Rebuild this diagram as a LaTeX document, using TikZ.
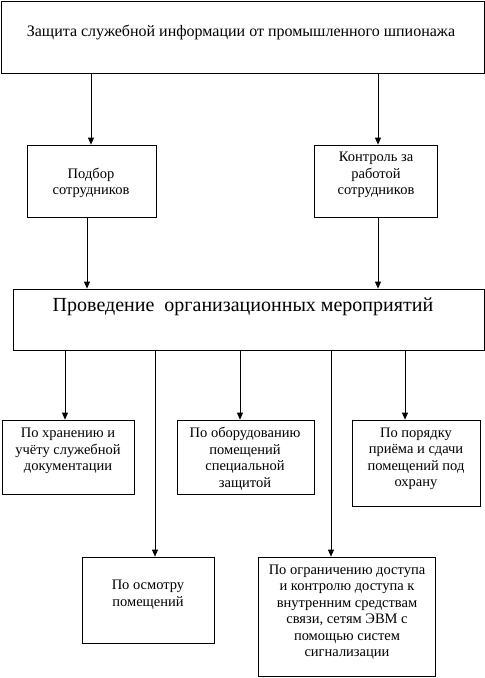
\documentclass[tikz,border=0pt]{standalone}
\usepackage{fontspec}
\setmainfont{Liberation Serif}
\usetikzlibrary{arrows.meta}
\begin{document}
\begin{tikzpicture}[x=1pt,y=-1pt,
  box/.style={draw=black, line width=0.8pt, inner sep=0pt, rectangle},
  txt/.style={inner sep=0pt, align=center, font=\fontsize{14.5}{16.5}\selectfont},
  titletxt/.style={inner sep=0pt, align=center, font=\fontsize{16}{19}\selectfont},
  bigtxt/.style={inner sep=0pt, align=center, font=\fontsize{20}{24}\selectfont},
  arr/.style={draw=black, line width=0.8pt, -{Triangle[length=7pt,width=6pt]}}]
\useasboundingbox (0,0) rectangle (485,678);
% boxes
\node[box, minimum width=483pt, minimum height=72pt] (top) at (242.5,37) {};
\node[box, minimum width=129pt, minimum height=72pt] (podbor) at (91.5,181) {};
\node[box, minimum width=123pt, minimum height=72pt] (kontrol) at (375.5,181) {};
\node[box, minimum width=471pt, minimum height=61pt] (proved) at (248.5,319.5) {};
\node[box, minimum width=132pt, minimum height=74pt] (khran) at (68,457) {};
\node[box, minimum width=137pt, minimum height=74pt] (oborud) at (245.5,457) {};
\node[box, minimum width=128pt, minimum height=86pt] (poryad) at (416,463) {};
\node[box, minimum width=132pt, minimum height=86pt] (osmotr) at (148,600) {};
\node[box, minimum width=177pt, minimum height=119pt] (ogran) at (346.5,616.5) {};
% texts
\node[titletxt] (top-t) at (241,32) {Защита служебной информации от промышленного шпионажа};
\node[txt] (podbor-t) at (91,183) {Подбор\\сотрудников};
\node[txt] (kontrol-t) at (376,175) {Контроль за\\работой\\сотрудников};
\node[bigtxt] (proved-t) at (243,307) {Проведение\ \ организационных мероприятий};
\node[txt] (khran-t) at (68,451) {По хранению и\\учёту служебной\\документации};
\node[txt] (oborud-t) at (245,459) {По оборудованию\\помещений\\специальной\\защитой};
\node[txt] (poryad-t) at (416,459) {По порядку\\приёма и сдачи\\помещений под\\охрану};
\node[txt] (osmotr-t) at (148,595) {По осмотру\\помещений};
\node[txt] (ogran-t) at (347,612) {По ограничению доступа\\и контролю доступа к\\внутренним средствам\\связи, сетям ЭВМ с\\помощью систем\\сигнализации};
% connector anchor points
\coordinate (c1) at ([xshift=-0.5pt]podbor.north);
\coordinate (c2) at ([xshift=2.5pt]kontrol.north);
\coordinate (c3) at ([xshift=-4.5pt]podbor.south);
\coordinate (c4) at ([xshift=2.5pt]kontrol.south);
\coordinate (c5) at ([xshift=-3pt]khran.north);
\coordinate (c6) at ([xshift=7pt]osmotr.north);
\coordinate (c7) at ([xshift=-5.5pt]oborud.north);
\coordinate (c8) at ([xshift=-15.5pt]ogran.north);
\coordinate (c9) at ([xshift=-11pt]poryad.north);
% connectors
\draw[arr] (c1 |- top.south) -- (c1);
\draw[arr] (c2 |- top.south) -- (c2);
\draw[arr] (c3) -- (c3 |- proved.north);
\draw[arr] (c4) -- (c4 |- proved.north);
\draw[arr] (c5 |- proved.south) -- (c5);
\draw[arr] (c6 |- proved.south) -- (c6);
\draw[arr] (c7 |- proved.south) -- (c7);
\draw[arr] (c8 |- proved.south) -- (c8);
\draw[arr] (c9 |- proved.south) -- (c9);
\end{tikzpicture}
\end{document}
